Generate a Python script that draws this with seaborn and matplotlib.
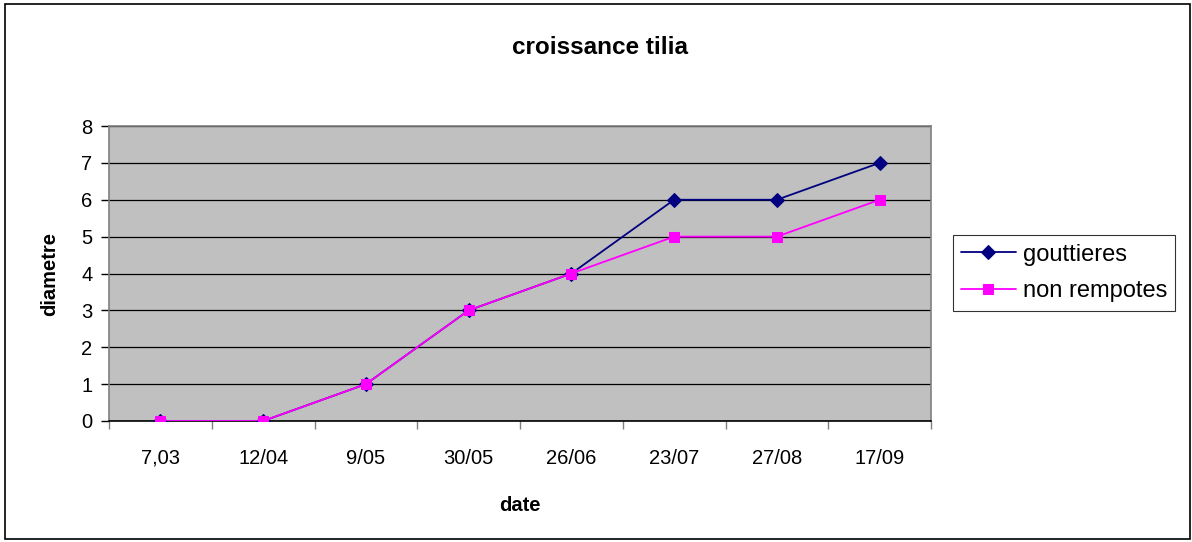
import matplotlib
matplotlib.use("Agg")
import matplotlib.pyplot as plt
import seaborn as sns
import pandas as pd
from matplotlib.patches import Rectangle

dates = ["7,03", "12/04", "9/05", "30/05", "26/06", "23/07", "27/08", "17/09"]
gouttieres = [0, 0, 1, 3, 4, 6, 6, 7]
non_rempotes = [0, 0, 1, 3, 4, 5, 5, 6]

sns.set_style("white")
plt.rcParams['font.family'] = ['Liberation Sans', 'DejaVu Sans']
plt.rcParams['text.color'] = 'black'
plt.rcParams['axes.labelcolor'] = 'black'
plt.rcParams['xtick.color'] = 'black'
plt.rcParams['ytick.color'] = 'black'

df = pd.DataFrame({
    "idx": list(range(len(dates))) * 2,
    "val": gouttieres + non_rempotes,
    "serie": ["gouttieres"] * len(dates) + ["non rempotes"] * len(dates),
})

fig = plt.figure(figsize=(11.92, 5.42), dpi=100)
ax = fig.add_axes([109/1192, 1 - 421/542, (931-109)/1192, (421-126)/542])
ax.set_facecolor("#C0C0C0")

sns.lineplot(data=df[df.serie == "gouttieres"], x="idx", y="val", ax=ax,
             color="#000080", marker="D", markersize=7, markeredgecolor="#000080",
             linewidth=1.3, label="gouttieres", zorder=3)
sns.lineplot(data=df[df.serie == "non rempotes"], x="idx", y="val", ax=ax,
             color="#FF00FF", marker="s", markersize=7.5, markeredgecolor="#FF00FF",
             linewidth=1.3, label="non rempotes", zorder=4)

ax.set_xlim(-0.5, len(dates) - 0.5)
ax.set_ylim(0, 8)
ax.set_yticks(range(0, 9))
ax.yaxis.grid(True, color="black", linewidth=0.9)
ax.set_axisbelow(True)
ax.set_xticks(range(len(dates)))
ax.set_xticklabels(dates)
ax.set_xticks([i - 0.5 for i in range(len(dates) + 1)], minor=True)
ax.tick_params(axis="x", which="major", length=0, pad=20, labelsize=14.5)
ax.tick_params(axis="x", which="minor", length=6, width=1, color="#808080", direction="out")
ax.tick_params(axis="y", length=6, width=1, color="black", direction="out", labelsize=14.5, pad=6)
ax.tick_params(axis="y", which="major", left=True)
ax.tick_params(axis="x", which="minor", bottom=True)

for s in ["top", "right"]:
    ax.spines[s].set_color("#808080")
    ax.spines[s].set_linewidth(1.2)
ax.spines["left"].set_color("#808080")
ax.spines["left"].set_linewidth(1.2)
ax.spines["bottom"].set_color("black")
ax.spines["bottom"].set_linewidth(1.2)

ax.set_xlabel("date", fontsize=14.5, fontweight="bold", labelpad=20)
ax.set_ylabel("diametre", fontsize=14.5, fontweight="bold", labelpad=16)
fig.suptitle("croissance tilia", fontsize=17.5, fontweight="bold", x=600/1192, y=1 - 47/542, va="center")

leg = ax.legend(loc="center left", bbox_to_anchor=(953/1192, 1 - 273/542),
                bbox_transform=fig.transFigure, fontsize=17, frameon=True,
                fancybox=False, edgecolor="black", borderpad=0.35,
                handlelength=2.3, handletextpad=0.3, labelspacing=0.62, borderaxespad=0)
leg.get_frame().set_linewidth(0.8)

fig.patches.append(Rectangle((5/1192, 3/542), 1185/1192, 535/542, transform=fig.transFigure,
                             fill=False, edgecolor="black", linewidth=1.2))

fig.savefig("out.png", dpi=100)
